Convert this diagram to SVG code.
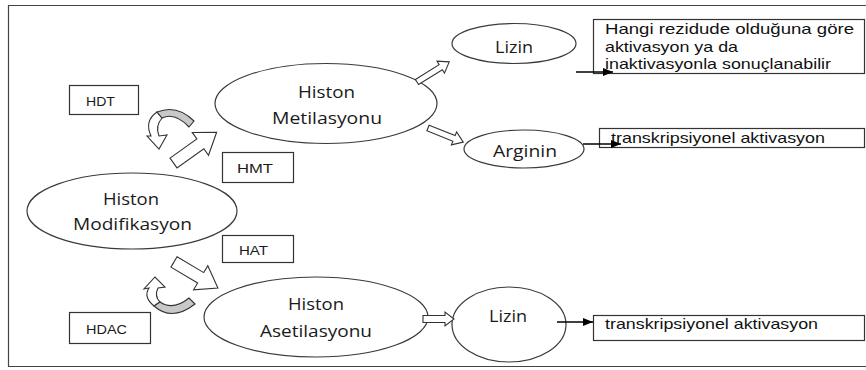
<svg xmlns="http://www.w3.org/2000/svg" width="866" height="370" viewBox="0 0 866 370">
<style>
.el{fill:#fff;stroke:#3a3a3a;stroke-width:1.2}
.bx{fill:#fff;stroke:#333;stroke-width:1.2}
.lbl{font-family:"Open Sans","Liberation Sans",sans-serif;font-size:16px;fill:#1a1a1a}
.sm{font-family:"Liberation Sans",Arial,sans-serif;font-size:12.5px;fill:#1a1a1a}
.tx{font-family:"Liberation Sans",Arial,sans-serif;font-size:15px;fill:#111}
.blk{fill:#fff;stroke:#333;stroke-width:1.1;stroke-linejoin:miter}
.gry{fill:#c8c8c8;stroke:#333;stroke-width:1.1}
.ln{stroke:#000;stroke-width:1.3;fill:none}
</style>
<defs>
<marker id="ah" viewBox="0 0 10 8" refX="10" refY="4" markerWidth="10" markerHeight="8" markerUnits="userSpaceOnUse" orient="auto">
<path d="M0,0 L10,4 L0,8 Z" fill="#000"/>
</marker>
</defs>
<rect width="866" height="370" fill="#fff"/>
<path d="M866,5.5 H8.5 V366.5 H866" fill="none" stroke="#444" stroke-width="1.2"/>

<g id="histon-modifikasyon">
<ellipse class="el" cx="132" cy="211" rx="105" ry="38"/>
<text class="lbl" x="103" y="205" textLength="56" lengthAdjust="spacingAndGlyphs">Histon</text>
<text class="lbl" x="73" y="230" textLength="119" lengthAdjust="spacingAndGlyphs">Modifikasyon</text>
</g>
<g id="histon-metilasyonu">
<ellipse class="el" cx="326" cy="103.5" rx="111" ry="40"/>
<text class="lbl" x="298" y="98" textLength="57" lengthAdjust="spacingAndGlyphs">Histon</text>
<text class="lbl" x="272" y="124" textLength="110" lengthAdjust="spacingAndGlyphs">Metilasyonu</text>
</g>
<g id="lizin-top">
<ellipse class="el" cx="514" cy="43.5" rx="62" ry="20"/>
<text class="lbl" x="495" y="53" textLength="38" lengthAdjust="spacingAndGlyphs">Lizin</text>
</g>
<g id="arginin">
<ellipse class="el" cx="524" cy="149" rx="60" ry="19"/>
<text class="lbl" x="493" y="157" textLength="64" lengthAdjust="spacingAndGlyphs">Arginin</text>
</g>
<g id="histon-asetilasyonu">
<ellipse class="el" cx="316" cy="317" rx="112" ry="40"/>
<text class="lbl" x="288" y="310" textLength="56" lengthAdjust="spacingAndGlyphs">Histon</text>
<text class="lbl" x="260" y="337" textLength="112" lengthAdjust="spacingAndGlyphs">Asetilasyonu</text>
</g>
<g id="lizin-bottom">
<ellipse class="el" cx="509" cy="324.5" rx="57" ry="37.5"/>
<text class="lbl" x="489" y="322" textLength="38" lengthAdjust="spacingAndGlyphs">Lizin</text>
</g>

<g id="hdt">
<rect class="bx" x="69.5" y="85.5" width="69" height="29"/>
<text class="sm" x="86" y="106" textLength="29" lengthAdjust="spacingAndGlyphs">HDT</text>
</g>
<g id="hmt">
<rect class="bx" x="222.5" y="152.5" width="71" height="30"/>
<text class="sm" x="237" y="173" textLength="36" lengthAdjust="spacingAndGlyphs">HMT</text>
</g>
<g id="hat">
<rect class="bx" x="222.5" y="235.5" width="71" height="27"/>
<text class="sm" x="239" y="255" textLength="29" lengthAdjust="spacingAndGlyphs">HAT</text>
</g>
<g id="hdac">
<rect class="bx" x="69.5" y="312.5" width="81" height="31"/>
<text class="sm" x="86" y="334" textLength="41" lengthAdjust="spacingAndGlyphs">HDAC</text>
</g>

<g id="hangi-box">
<rect class="bx" x="593.5" y="19.5" width="271" height="54"/>
<text class="tx" x="605" y="34" textLength="249" lengthAdjust="spacingAndGlyphs">Hangi rezidude olduğuna göre</text>
<text class="tx" x="605" y="52" textLength="133" lengthAdjust="spacingAndGlyphs">aktivasyon ya da</text>
<text class="tx" x="605" y="69" textLength="226" lengthAdjust="spacingAndGlyphs">inaktivasyonla sonuçlanabilir</text>
</g>
<g id="transkripsiyonel-top">
<rect class="bx" x="599.5" y="128.5" width="265" height="19"/>
<text class="tx" x="611" y="143" textLength="214" lengthAdjust="spacingAndGlyphs">transkripsiyonel aktivasyon</text>
</g>
<g id="transkripsiyonel-bottom">
<rect class="bx" x="593.5" y="315.5" width="271" height="25"/>
<text class="tx" x="605" y="329" textLength="213" lengthAdjust="spacingAndGlyphs">transkripsiyonel aktivasyon</text>
</g>

<g id="connectors">
<path class="blk" transform="translate(173.5,163) rotate(-35.5)" d="M0,-6 L33,-6 L33,-14 L53,0 L33,14 L33,6 L0,6 Z"/>
<path class="blk" transform="translate(174,262) rotate(30.6)" d="M0,-6 L31,-6 L31,-14 L51,0 L31,14 L31,6 L0,6 Z"/>
<path class="blk" transform="translate(417,82) rotate(-32)" d="M0,-3 L28,-3 L28,-7 L38,0 L28,7 L28,3 L0,3 Z"/>
<path class="blk" transform="translate(428,128) rotate(21.8)" d="M0,-3 L28,-3 L28,-7 L38,0 L28,7 L28,3 L0,3 Z"/>
<path class="blk" transform="translate(423,319)" d="M0,-3.5 L22,-3.5 L22,-7 L31,0 L22,7 L22,3.5 L0,3.5 Z"/>
<!-- curved arrow top (HDT) -->
<path class="blk" d="M157,112 Q144,121 151,136 L147,136 L159,149 L167,135 L159,136 Q155,126 162,118 Z"/>
<path class="gry" d="M157,112 Q177,104 194,121 L189,127 Q175,112 162,118 Z"/>
<!-- curved arrow bottom (HDAC) -->
<path class="blk" d="M154,306 Q143,297 149,288 L144,289 L155,277 L165,287 L158,288 Q154,296 160,302 Z"/>
<path class="gry" d="M154,306 Q172,322 195,304 L189,298 Q173,311 160,302 Z"/>
<line class="ln" x1="576" y1="72" x2="613" y2="72" marker-end="url(#ah)"/>
<line class="ln" x1="583" y1="144" x2="621" y2="144" marker-end="url(#ah)"/>
<line class="ln" x1="557" y1="322" x2="593" y2="322" marker-end="url(#ah)"/>
</g>
</svg>
